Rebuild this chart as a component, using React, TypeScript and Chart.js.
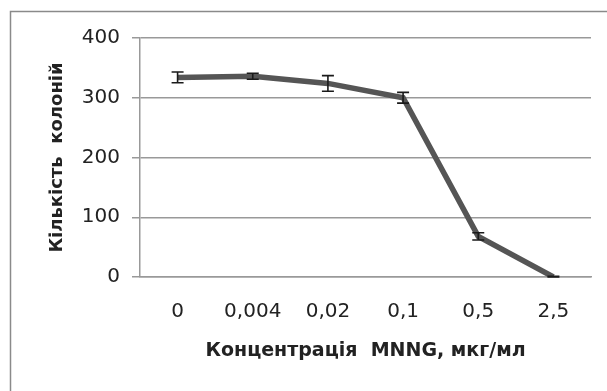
import React, { useEffect, useRef } from "react";
import { Chart, registerables } from "chart.js";

Chart.register(...registerables);

const categories = ["0", "0,004", "0,02", "0,1", "0,5", "2,5"];
const colonies = [334, 336, 324, 300, 68, 0];
const errors = [9, 5, 13, 9, 6, 1];
const yTicks = [0, 100, 200, 300, 400];
const xTitle = "Концентрація  MNNG, мкг/мл";
const yTitle = "Кількість  колоній";

const FONT = "'DejaVu Sans', sans-serif";

const frame = {
  id: "frame",
  beforeDraw(chart: any) {
    const ctx = chart.ctx;
    ctx.save();
    ctx.fillStyle = "#ffffff";
    ctx.fillRect(0, 0, chart.width, chart.height);
    ctx.strokeStyle = "#8a8a8a";
    ctx.lineWidth = 1.5;
    ctx.strokeRect(10.5, 11.5, chart.width + 20, chart.height + 20);
    ctx.restore();
  },
};

const errorBars = {
  id: "errorBars",
  afterDatasetsDraw(chart: any) {
    const ctx = chart.ctx;
    const xs = chart.scales.x;
    const ys = chart.scales.y;
    ctx.save();
    ctx.strokeStyle = "#1a1a1a";
    ctx.lineWidth = 1.6;
    colonies.forEach((v, i) => {
      const e = errors[i];
      const x = xs.getPixelForValue(i);
      const yTop = ys.getPixelForValue(v + e);
      const yBot = ys.getPixelForValue(Math.max(0, v - e));
      const cap = 6;
      ctx.beginPath();
      ctx.moveTo(x, yTop);
      ctx.lineTo(x, yBot);
      ctx.moveTo(x - cap, yTop);
      ctx.lineTo(x + cap, yTop);
      ctx.moveTo(x - cap, yBot);
      ctx.lineTo(x + cap, yBot);
      ctx.stroke();
    });
    ctx.restore();
  },
};

export default function App() {
  const ref = useRef<HTMLCanvasElement | null>(null);
  useEffect(() => {
    if (!ref.current) return;
    const chart = new Chart(ref.current, {
      type: "line",
      data: {
        labels: categories,
        datasets: [
          {
            data: colonies,
            borderColor: "#555555",
            borderWidth: 5.5,
            pointRadius: 0,
            tension: 0,
            fill: false,
          },
        ],
      },
      options: {
        animation: false,
        responsive: false,
        layout: { padding: { left: 47, top: 38, right: 16, bottom: 29 } },
        plugins: { legend: { display: false }, tooltip: { enabled: false } },
        scales: {
          x: {
            type: "category",
            offset: true,
            grid: { display: false },
            border: { display: true, color: "#999999", width: 1.5 },
            ticks: {
              color: "#222222",
              font: { family: FONT, size: 20 },
              padding: 15,
              maxRotation: 0,
            },
            title: {
              display: true,
              text: xTitle,
              color: "#222222",
              font: { family: FONT, size: 19, weight: "bold" },
              padding: 0,
            },
            afterFit: (s: any) => {
              s.height = 85;
            },
          },
          y: {
            min: 0,
            max: 400,
            afterBuildTicks: (s: any) => {
              s.ticks = yTicks.map((v) => ({ value: v }));
            },
            grid: {
              color: "#999999",
              lineWidth: 1.5,
              drawTicks: true,
              tickLength: 8,
            },
            border: { display: true, color: "#999999", width: 1.5 },
            ticks: {
              color: "#222222",
              font: { family: FONT, size: 20 },
              padding: 12,
            },
            title: {
              display: true,
              text: yTitle,
              color: "#222222",
              font: { family: FONT, size: 18, weight: "bold" },
              padding: 0,
            },
            afterFit: (s: any) => {
              s.width = 93;
            },
          },
        },
      },
      plugins: [frame, errorBars],
    });
    return () => chart.destroy();
  }, []);
  return (
    <div style={{ position: "fixed", left: 0, top: 0, width: 607, height: 391 }}>
      <canvas ref={ref} width={607} height={391} />
    </div>
  );
}
